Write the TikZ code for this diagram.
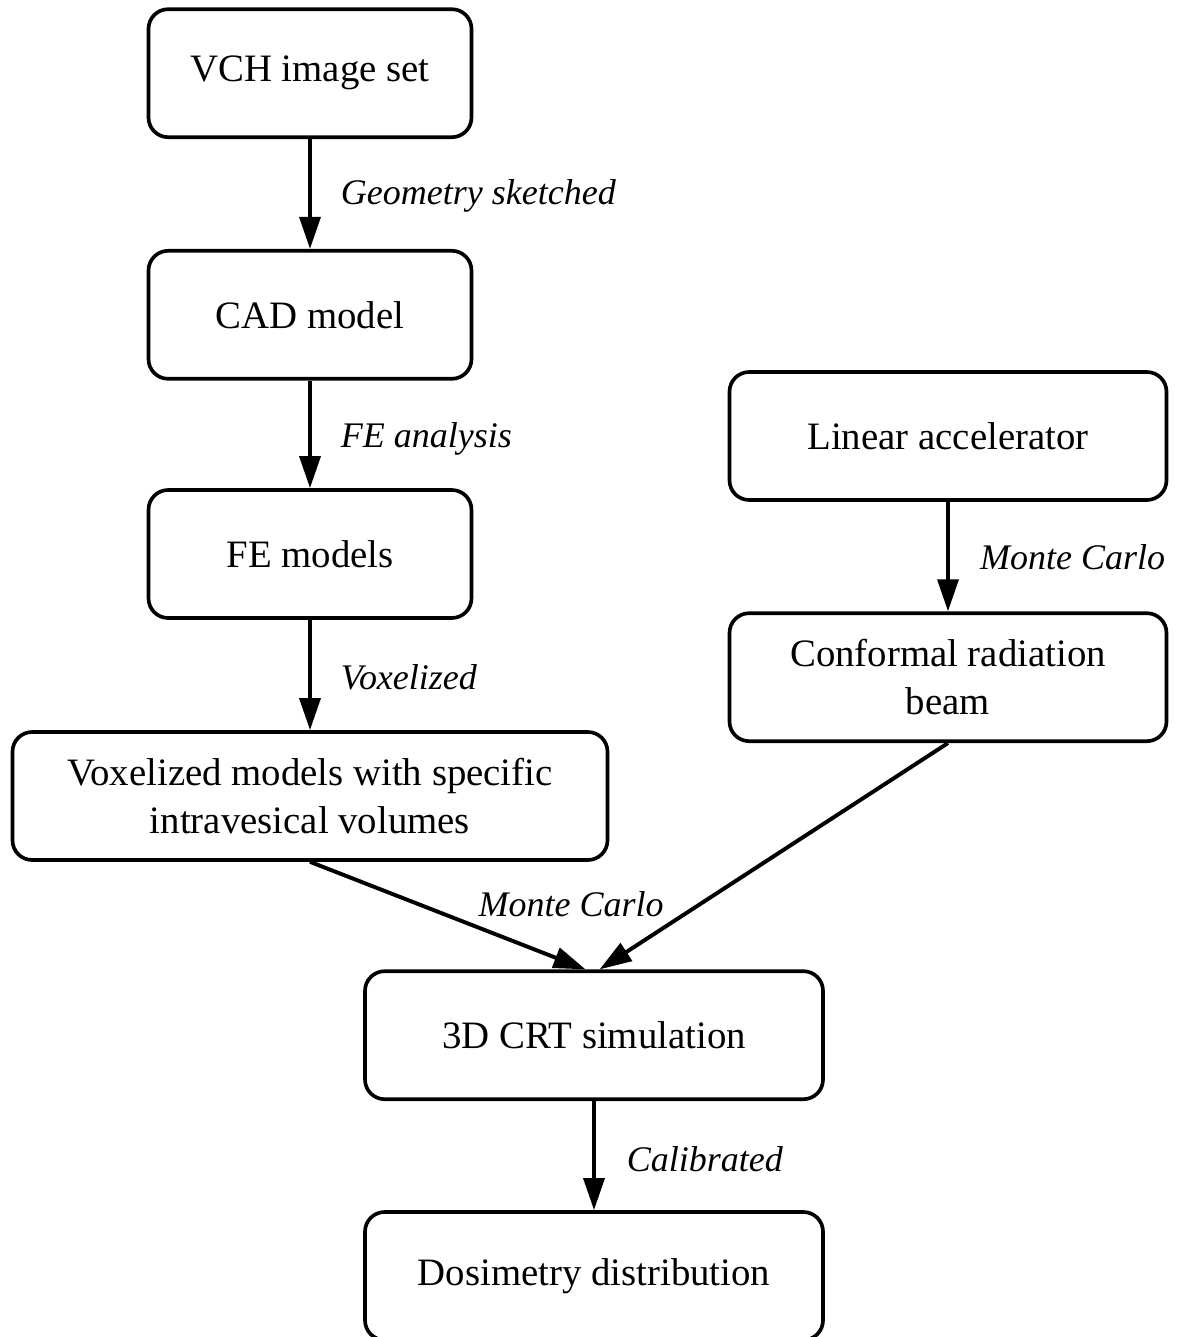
\documentclass[tikz,border=0pt]{standalone}
\usepackage{fontspec}
\setmainfont{Liberation Serif}
\usetikzlibrary{arrows.meta, positioning}

\begin{document}
\begin{tikzpicture}[
    etapa/.style={
        draw,
        line width=2.6pt,
        rounded corners=14pt,
        align=center,
        font=\fontsize{27.6}{34}\selectfont,
        minimum width=8.075cm,
        minimum height=3.2cm
    },
    seta/.style={
        -{Triangle[length=0.8cm, width=0.52cm]},
        line width=2.8pt
    },
    rotulo/.style={
        font=\fontsize{25.6}{30}\selectfont\itshape,
        anchor=west
    }
]

\useasboundingbox (0,0) rectangle (29.4,-33.425);

\node[etapa] (vch) at (7.75,-1.83) {VCH image set};

\node[etapa] (cad) at (7.75,-7.87) {CAD model};

\node[etapa] (fe) at (7.75,-13.85) {FE models};

\node[etapa, minimum width=14.875cm] (vox) at (7.75,-19.9)
{Voxelized models with specific\\
intravesical volumes};

\node[etapa, minimum width=10.925cm] (linac) at (23.7,-10.9)
{Linear accelerator};

\node[etapa, minimum width=10.925cm] (beam) at (23.7,-16.93)
{Conformal radiation\\
beam};

\node[etapa, minimum width=11.45cm] (crt) at (14.85,-25.88)
{3D CRT simulation};

\node[etapa, minimum width=11.45cm] (dose) at (14.85,-31.9)
{Dosimetry distribution};

\draw[seta] (vch) -- (cad);
\draw[seta] (cad) -- (fe);
\draw[seta] (fe) -- (vox);
\draw[seta] (linac) -- (beam);
\draw[seta] (vox.south) -- ([xshift=-6pt]crt.north);
\draw[seta] (beam.south) -- ([xshift=4pt]crt.north);
\draw[seta] (crt) -- (dose);

\node[rotulo] (l1) at (8.4,-4.9) {Geometry sketched};
\node[rotulo] (l2) at (8.4,-10.98) {FE analysis};
\node[rotulo] (l3) at (8.4,-16.93) {Voxelized};
\node[rotulo] (l4) at (24.38,-13.93) {Monte Carlo};
\node[rotulo, anchor=center] (l5) at (14.28,-22.6) {Monte Carlo};
\node[rotulo] (l6) at (15.55,-28.98) {Calibrated};

\end{tikzpicture}
\end{document}
